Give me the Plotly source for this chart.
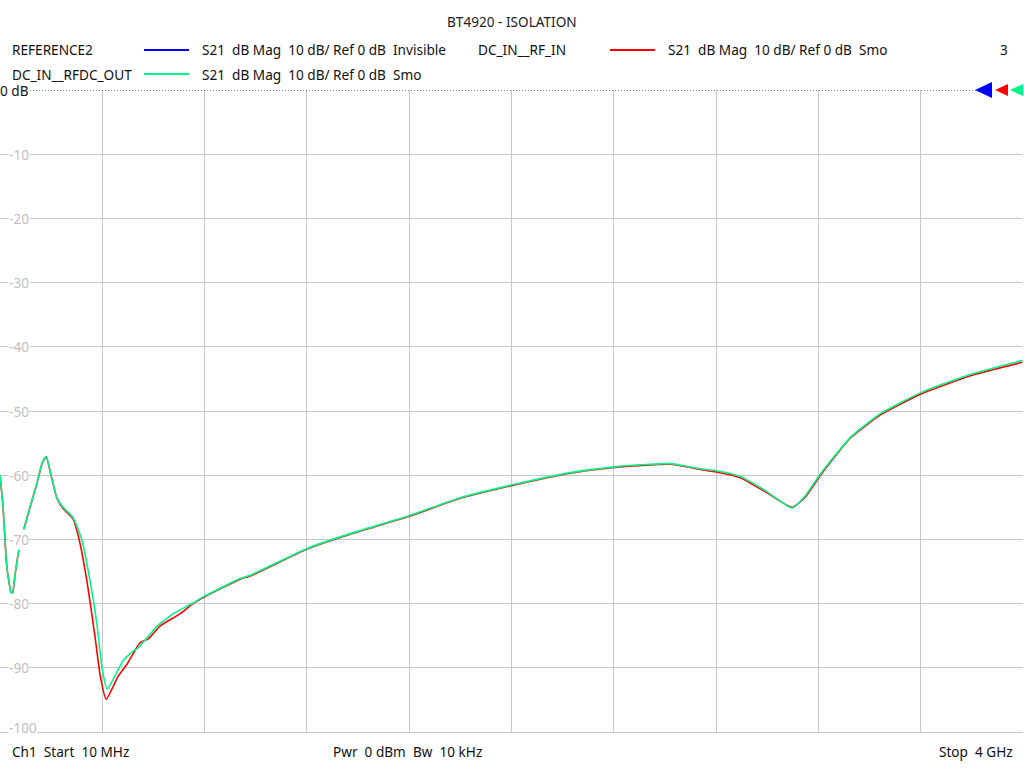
import plotly.graph_objects as go

# ---- data ----
freq_green_mhz = [10, 22, 37, 57, 69, 88, 127, 154, 174, 190, 205, 217, 232, 256, 295, 330, 361, 388, 408, 428,
                  467, 490, 529, 545, 584, 623, 685, 712, 763, 810, 946, 986, 1208, 1376, 1606, 1805, 2008,
                  2234, 2406, 2624, 2741, 2804, 2898, 2995, 3100, 3151, 3210, 3327, 3444, 3604, 3795, 3998]
db_green = [-60.0, -65.0, -74.4, -79.1, -75.4, -70.7, -65.0, -61.3, -58.2, -57.1, -59.3, -61.3, -63.5, -65.0,
            -66.6, -70.2, -76.4, -83.2, -90.0, -93.3, -90.6, -88.9, -87.4, -87.0, -85.3, -83.5, -81.6, -81.0,
            -79.9, -78.8, -76.1, -75.6, -71.4, -69.1, -66.3, -63.5, -61.5, -59.6, -58.7, -58.2, -59.0, -59.3,
            -60.2, -62.4, -65.1, -63.2, -59.8, -54.1, -50.4, -47.1, -44.3, -42.1]

freq_red_mhz = [10, 22, 37, 57, 69, 88, 127, 154, 174, 190, 205, 217, 232, 256, 295, 322, 353, 380, 402, 424,
                471, 506, 556, 588, 634, 712, 763, 810, 946, 986, 1208, 1376, 1606, 1805, 2008,
                2234, 2406, 2624, 2741, 2804, 2898, 2995, 3100, 3151, 3210, 3327, 3444, 3604, 3795, 3998]
db_red = [-60.0, -65.0, -74.4, -79.1, -75.4, -70.7, -65.0, -61.3, -58.2, -57.1, -59.3, -61.3, -63.6, -65.2,
          -66.8, -70.6, -77.5, -85.0, -91.5, -94.9, -91.3, -89.4, -86.1, -85.5, -83.5, -81.6, -80.0, -78.9,
          -76.2, -75.7, -71.5, -69.2, -66.4, -63.6, -61.6, -59.7, -58.8, -58.3, -59.1, -59.5, -60.4, -62.6,
          -65.0, -63.4, -60.0, -54.2, -50.6, -47.3, -44.5, -42.4]

y_tick_labels = ["-10", "-20", "-30", "-40", "-50", "-60", "-70", "-80", "-90", "-100"]
y_tick_values = [-10, -20, -30, -40, -50, -60, -70, -80, -90, -100]

title_text = "BT4920 - ISOLATION"
legend_rows = [
    ("REFERENCE2", "#0000ff", "S21\u00a0\u00a0dB Mag\u00a0\u00a010 dB/ Ref 0 dB\u00a0\u00a0Invisible"),
    ("DC_IN__RF_IN", "#ff0000", "S21\u00a0\u00a0dB Mag\u00a0\u00a010 dB/ Ref 0 dB\u00a0\u00a0Smo"),
    ("DC_IN__RFDC_OUT", "#00f58a", "S21\u00a0\u00a0dB Mag\u00a0\u00a010 dB/ Ref 0 dB\u00a0\u00a0Smo"),
]

GREEN = "#00f58a"
FONT = "Noto Sans, Open Sans, sans-serif"
FS = 13.6

# ---- pixel helpers (layout only) ----
W_PLOT = 1023.0
TOP, BOT = 90.0, 732.0


def px(x):
    return x / W_PLOT


def py(y):
    return (BOT - y) / (BOT - TOP)


fig = go.Figure()
fig.add_trace(go.Scatter(x=freq_red_mhz, y=db_red, mode="lines",
                         line=dict(color="#ff0000", width=1.6, shape="spline", smoothing=0.5),
                         showlegend=False, hoverinfo="skip"))
fig.add_trace(go.Scatter(x=freq_green_mhz, y=db_green, mode="lines",
                         line=dict(color=GREEN, width=1.6, shape="spline", smoothing=0.5),
                         showlegend=False, hoverinfo="skip"))

ann = []
shapes = []

# title
ann.append(dict(x=px(512), y=py(21), xref="paper", yref="paper", text=title_text, showarrow=False,
                xanchor="center", yanchor="middle", font=dict(family=FONT, size=FS, color="#222")))

# legend
def legend_entry(xl, yy, name, color, desc):
    ann.append(dict(x=px(xl - 2), y=py(yy), xref="paper", yref="paper", text=name, showarrow=False,
                    xanchor="left", yanchor="middle", font=dict(family=FONT, size=FS, color="#111")))
    shapes.append(dict(type="line", xref="paper", yref="paper", x0=px(xl + 132), x1=px(xl + 177),
                       y0=py(yy), y1=py(yy), line=dict(color=color, width=2)))
    ann.append(dict(x=px(xl + 188), y=py(yy), xref="paper", yref="paper", text=desc, showarrow=False,
                    xanchor="left", yanchor="middle", font=dict(family=FONT, size=FS, color="#111")))

legend_entry(12, 50, *legend_rows[0])
legend_entry(478, 50, *legend_rows[1])
legend_entry(12, 74, *legend_rows[2])
ann.append(dict(x=px(1004), y=py(50), xref="paper", yref="paper", text="3", showarrow=False,
                xanchor="center", yanchor="middle", font=dict(family=FONT, size=FS, color="#111")))

# y tick labels inside plot
for v, t in zip(y_tick_values, y_tick_labels):
    ann.append(dict(x=px(8), y=v, xref="paper", yref="y", text=t, showarrow=False, xanchor="left",
                    yanchor="middle", yshift=(5 if v == -100 else 0), bgcolor="white", borderpad=0,
                    font=dict(family=FONT, size=FS, color="#c0c0c0")))

# reference line + "0 dB"
shapes.append(dict(type="line", xref="paper", yref="y", x0=px(30), x1=px(976), y0=0, y1=0,
                   line=dict(color="#000", width=1, dash="1px,2px")))
ann.append(dict(x=px(-1), y=0, xref="paper", yref="y", text="0 dB", showarrow=False, xanchor="left",
                yanchor="middle", bgcolor="white", borderpad=0,
                font=dict(family=FONT, size=FS, color="#111")))

# reference markers
def tri(x_tip, x_base, half, color):
    path = "M {} {} L {} {} L {} {} Z".format(px(x_tip), py(90), px(x_base), py(90 - half),
                                              px(x_base), py(90 + half))
    shapes.append(dict(type="path", xref="paper", yref="paper", path=path,
                       fillcolor=color, line=dict(color=color, width=0)))

tri(975, 992, 8, "#0000ff")
tri(995, 1008, 6, "#ff0000")
tri(1010, 1023, 6, GREEN)

# footer
for xx, t, anc in [(10, "Ch1\u00a0\u00a0Start\u00a0\u00a010 MHz", "left"),
                   (331, "Pwr\u00a0\u00a00 dBm\u00a0\u00a0Bw\u00a0\u00a010 kHz", "left"),
                   (1015, "Stop\u00a0\u00a04 GHz", "right")]:
    ann.append(dict(x=px(xx), y=py(751), xref="paper", yref="paper", text=t, showarrow=False,
                    xanchor=anc, yanchor="middle", font=dict(family=FONT, size=FS, color="#111")))

fig.update_layout(
    width=1024, height=768,
    margin=dict(l=0, r=1, t=90, b=36),
    paper_bgcolor="white", plot_bgcolor="white",
    showlegend=False,
    annotations=ann, shapes=shapes,
    xaxis=dict(range=[10, 4000], tick0=10, dtick=399, showgrid=True, gridcolor="#c8c8c8", gridwidth=1,
               showticklabels=False, zeroline=False, showline=True, linecolor="#c8c8c8", linewidth=1,
               ticks=""),
    yaxis=dict(range=[-100, 0], dtick=10, showgrid=True, gridcolor="#c8c8c8", gridwidth=1,
               showticklabels=False, zeroline=False, showline=True, linecolor="#c8c8c8", linewidth=1,
               ticks=""),
)

fig.write_html("out.html", config={"displayModeBar": False},
               post_script="document.body.style.margin='0';document.body.style.overflow='hidden';")
